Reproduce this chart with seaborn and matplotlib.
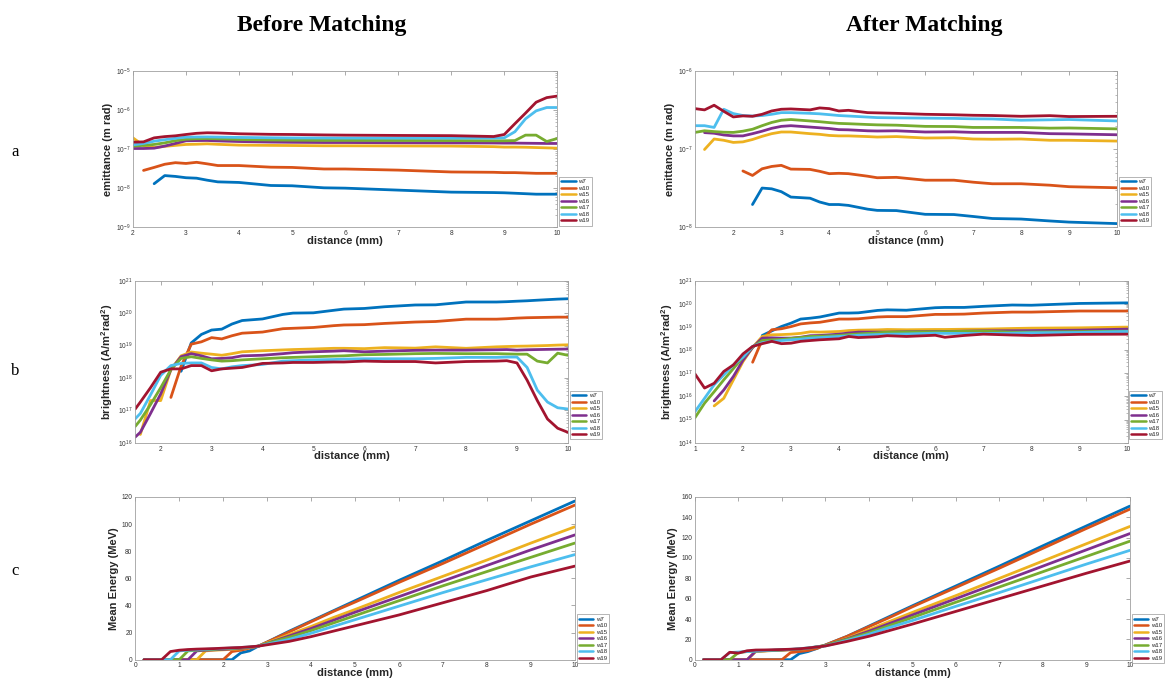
import numpy as np
import pandas as pd
import matplotlib
matplotlib.use('Agg')
import matplotlib.pyplot as plt
import seaborn as sns

nan = np.nan

# series names and MATLAB default colours
labels = ['w7', 'w10', 'w15', 'w16', 'w17', 'w18', 'w19']
colors = ['#0072BD', '#D95319', '#EDB120', '#7E2F8E', '#77AC30', '#4DBEEE', '#A2142F']

# --- emittance, before matching
emit_before_x = [2.0, 2.2, 2.4, 2.6, 2.8, 3.0, 3.2, 3.4, 3.6, 4.0, 4.6, 5.0, 5.6, 6.0, 7.0, 8.0, 8.8, 9.0, 9.2, 9.4, 9.6, 9.8, 10.0]
emit_before_w7 = [nan, nan, 1.3e-8, 2.1e-8, 2.0e-8, 1.85e-8, 1.8e-8, 1.6e-8, 1.45e-8, 1.4e-8, 1.17e-8, 1.15e-8, 1.02e-8, 1.0e-8, 0.89e-8, 0.79e-8, 0.77e-8, 0.76e-8, 0.74e-8, 0.72e-8, 0.7e-8, 0.7e-8, 0.7e-8]
emit_before_w10 = [nan, 2.85e-8, 3.4e-8, 4.1e-8, 4.5e-8, 4.3e-8, 4.6e-8, 4.2e-8, 3.8e-8, 3.8e-8, 3.45e-8, 3.4e-8, 3.1e-8, 3.1e-8, 2.9e-8, 2.6e-8, 2.55e-8, 2.5e-8, 2.5e-8, 2.45e-8, 2.4e-8, 2.4e-8, 2.4e-8]
emit_before_w15 = [1.95e-7, 1.24e-7, 1.1e-7, 1.18e-7, 1.25e-7, 1.32e-7, 1.34e-7, 1.37e-7, 1.33e-7, 1.27e-7, 1.25e-7, 1.24e-7, 1.22e-7, 1.22e-7, 1.21e-7, 1.2e-7, 1.16e-7, 1.13e-7, 1.13e-7, 1.12e-7, 1.1e-7, 1.08e-7, 1.06e-7]
emit_before_w16 = [1.04e-7, 1.04e-7, 1.06e-7, 1.2e-7, 1.4e-7, 1.64e-7, 1.66e-7, 1.67e-7, 1.63e-7, 1.57e-7, 1.52e-7, 1.5e-7, 1.48e-7, 1.48e-7, 1.46e-7, 1.45e-7, 1.44e-7, 1.43e-7, 1.43e-7, 1.42e-7, 1.41e-7, 1.4e-7, 1.4e-7]
emit_before_w17 = [1.2e-7, 1.25e-7, 1.32e-7, 1.45e-7, 1.65e-7, 1.8e-7, 1.85e-7, 1.88e-7, 1.84e-7, 1.77e-7, 1.72e-7, 1.7e-7, 1.68e-7, 1.68e-7, 1.67e-7, 1.66e-7, 1.64e-7, 1.64e-7, 1.66e-7, 2.29e-7, 2.29e-7, 1.57e-7, 1.88e-7]
emit_before_w18 = [1.29e-7, 1.4e-7, 1.6e-7, 1.75e-7, 1.9e-7, 2.03e-7, 2.05e-7, 2.06e-7, 2.04e-7, 2.0e-7, 1.96e-7, 1.94e-7, 1.93e-7, 1.92e-7, 1.92e-7, 1.92e-7, 1.93e-7, 1.95e-7, 2.8e-7, 6.0e-7, 9.6e-7, 1.17e-6, 1.17e-6]
emit_before_w19 = [1.51e-7, 1.54e-7, 1.95e-7, 2.1e-7, 2.2e-7, 2.38e-7, 2.55e-7, 2.63e-7, 2.6e-7, 2.48e-7, 2.4e-7, 2.38e-7, 2.32e-7, 2.29e-7, 2.25e-7, 2.22e-7, 2.11e-7, 2.38e-7, 4.5e-7, 8.4e-7, 1.6e-6, 2.1e-6, 2.3e-6]

# --- emittance, after matching
emit_after_x = [1.2, 1.4, 1.6, 1.8, 2.0, 2.2, 2.4, 2.6, 2.8, 3.0, 3.2, 3.6, 3.8, 4.0, 4.2, 4.4, 4.8, 5.0, 5.4, 6.0, 6.6, 7.0, 7.4, 8.0, 8.6, 9.0, 10.0]
emit_after_w7 = [nan] * 6 + [1.95e-8, 3.17e-8, 3.1e-8, 2.85e-8, 2.43e-8, 2.35e-8, 2.1e-8, 1.95e-8, 1.95e-8, 1.9e-8, 1.7e-8, 1.64e-8, 1.63e-8, 1.46e-8, 1.45e-8, 1.37e-8, 1.29e-8, 1.27e-8, 1.2e-8, 1.16e-8, 1.11e-8]
emit_after_w10 = [nan] * 5 + [5.25e-8, 4.6e-8, 5.6e-8, 6.0e-8, 6.2e-8, 5.55e-8, 5.5e-8, 5.2e-8, 4.85e-8, 4.9e-8, 4.85e-8, 4.5e-8, 4.3e-8, 4.35e-8, 4.0e-8, 4.0e-8, 3.77e-8, 3.6e-8, 3.6e-8, 3.45e-8, 3.3e-8, 3.2e-8]
emit_after_w15 = [nan, 9.9e-8, 1.35e-7, 1.3e-7, 1.22e-7, 1.24e-7, 1.33e-7, 1.46e-7, 1.58e-7, 1.66e-7, 1.66e-7, 1.58e-7, 1.55e-7, 1.5e-7, 1.48e-7, 1.48e-7, 1.45e-7, 1.43e-7, 1.45e-7, 1.39e-7, 1.40e-7, 1.35e-7, 1.34e-7, 1.35e-7, 1.3e-7, 1.3e-7, 1.27e-7]
emit_after_w16 = [nan, 1.63e-7, 1.6e-7, 1.52e-7, 1.48e-7, 1.48e-7, 1.58e-7, 1.7e-7, 1.85e-7, 1.96e-7, 2.0e-7, 1.92e-7, 1.88e-7, 1.84e-7, 1.78e-7, 1.77e-7, 1.72e-7, 1.71e-7, 1.72e-7, 1.66e-7, 1.67e-7, 1.64e-7, 1.64e-7, 1.64e-7, 1.58e-7, 1.57e-7, 1.53e-7]
emit_after_w17 = [1.64e-7, 1.72e-7, 1.68e-7, 1.65e-7, 1.64e-7, 1.7e-7, 1.8e-7, 2.0e-7, 2.2e-7, 2.35e-7, 2.4e-7, 2.3e-7, 2.25e-7, 2.19e-7, 2.14e-7, 2.12e-7, 2.07e-7, 2.05e-7, 2.03e-7, 1.96e-7, 1.95e-7, 1.9e-7, 1.9e-7, 1.9e-7, 1.86e-7, 1.87e-7, 1.82e-7]
emit_after_w18 = [2.0e-7, 2.0e-7, 1.9e-7, 3.25e-7, 2.86e-7, 2.7e-7, 2.66e-7, 2.7e-7, 2.8e-7, 2.94e-7, 2.94e-7, 2.88e-7, 2.84e-7, 2.77e-7, 2.7e-7, 2.66e-7, 2.58e-7, 2.54e-7, 2.52e-7, 2.5e-7, 2.48e-7, 2.45e-7, 2.44e-7, 2.35e-7, 2.38e-7, 2.4e-7, 2.3e-7]
emit_after_w19 = [3.31e-7, 3.19e-7, 3.66e-7, 3.06e-7, 2.59e-7, 2.67e-7, 2.64e-7, 2.8e-7, 3.09e-7, 3.25e-7, 3.28e-7, 3.19e-7, 3.38e-7, 3.31e-7, 3.09e-7, 3.15e-7, 2.94e-7, 2.92e-7, 2.88e-7, 2.8e-7, 2.76e-7, 2.72e-7, 2.7e-7, 2.64e-7, 2.69e-7, 2.62e-7, 2.64e-7]

# --- brightness, before matching
bright_before_x = [1.5, 1.6, 1.8, 2.0, 2.2, 2.4, 2.6, 2.8, 3.0, 3.2, 3.4, 3.6, 4.0, 4.4, 4.6, 5.0, 5.4, 5.6, 6.0, 6.4, 7.0, 7.4, 8.0, 8.6, 8.8, 9.0, 9.2, 9.4, 9.6, 9.8, 10.0]
bright_before_w7 = [nan] * 5 + [1.6e18, 1.2e19, 2.2e19, 3.0e19, 3.2e19, 4.6e19, 5.9e19, 6.6e19, 9.1e19, 1.0e20, 1.02e20, 1.22e20, 1.33e20, 1.39e20, 1.57e20, 1.78e20, 1.8e20, 2.2e20, 2.2e20, 2.25e20, 2.33e20, 2.4e20, 2.5e20, 2.6e20, 2.7e20, 2.77e20]
bright_before_w10 = [nan] * 4 + [2.5e17, 2.3e18, 1.1e19, 1.3e19, 1.75e19, 1.6e19, 2.0e19, 2.4e19, 2.6e19, 3.3e19, 3.4e19, 3.6e19, 4.1e19, 4.3e19, 4.4e19, 4.8e19, 5.3e19, 5.5e19, 6.5e19, 6.5e19, 6.7e19, 7.0e19, 7.2e19, 7.3e19, 7.4e19, 7.5e19, 7.5e19]
bright_before_w15 = [nan, 1.8e16, 2.0e17, 2.0e17, 1.8e18, 4.8e18, 6.3e18, 5.8e18, 5.4e18, 5.0e18, 5.6e18, 6.4e18, 6.9e18, 7.3e18, 7.5e18, 7.8e18, 8.2e18, 8.2e18, 8.0e18, 8.6e18, 8.3e18, 9.1e18, 8.2e18, 9.1e18, 9.3e18, 9.5e18, 9.6e18, 9.8e18, 1.0e19, 1.03e19, 1.05e19]
bright_before_w16 = [1.5e16, 2.1e16, 8e16, 3.2e17, 1.8e18, 4.5e18, 5.6e18, 4.8e18, 3.9e18, 4.0e18, 4.2e18, 4.8e18, 5.0e18, 5.6e18, 6.0e18, 6.4e18, 6.7e18, 6.9e18, 6.4e18, 6.7e18, 7.1e18, 7.2e18, 7.2e18, 7.4e18, 7.5e18, 7.2e18, 7.4e18, 7.5e18, 7.6e18, 7.7e18, 7.8e18]
bright_before_w17 = [3.2e16, 5e16, 1.5e17, 5e17, 1.8e18, 4.0e18, 4.5e18, 4.0e18, 3.6e18, 3.3e18, 3.4e18, 3.6e18, 3.9e18, 4.2e18, 4.3e18, 4.5e18, 4.7e18, 4.8e18, 5.2e18, 5.3e18, 5.6e18, 5.7e18, 5.6e18, 5.6e18, 5.5e18, 5.4e18, 5.4e18, 3.3e18, 2.9e18, 5.8e18, 5.0e18]
bright_before_w18 = [5.5e16, 8e16, 3e17, 1.2e18, 2.4e18, 2.8e18, 2.9e18, 2.9e18, 2.1e18, 1.9e18, 2.2e18, 2.4e18, 2.6e18, 3.3e18, 3.4e18, 3.6e18, 3.7e18, 3.8e18, 3.9e18, 3.9e18, 3.9e18, 4.0e18, 4.3e18, 4.3e18, 4.4e18, 4.4e18, 2.1e18, 4.2e17, 1.8e17, 1.2e17, 1.1e17]
bright_before_w19 = [1.1e17, 1.8e17, 5e17, 1.5e18, 1.9e18, 1.9e18, 2.4e18, 2.4e18, 1.66e18, 1.9e18, 2.0e18, 2.1e18, 2.8e18, 2.9e18, 3.0e18, 3.0e18, 3.1e18, 3.1e18, 3.3e18, 3.2e18, 3.2e18, 2.9e18, 3.2e18, 3.3e18, 3.4e18, 2.9e18, 8.5e17, 2.0e17, 5.4e16, 2.8e16, 2.1e16]

# --- brightness, after matching
bright_after_x = [1.0, 1.2, 1.4, 1.6, 1.8, 2.0, 2.2, 2.4, 2.6, 2.8, 3.0, 3.2, 3.4, 3.6, 4.0, 4.2, 4.4, 4.8, 5.0, 5.4, 6.0, 6.2, 6.6, 7.0, 7.6, 8.0, 9.0, 10.0]
bright_after_w7 = [nan] * 7 + [4.3e18, 6.8e18, 1.05e19, 1.47e19, 2.2e19, 2.4e19, 2.7e19, 4.0e19, 4.0e19, 4.1e19, 5.2e19, 5.5e19, 5.3e19, 6.8e19, 7.0e19, 7.0e19, 7.8e19, 8.9e19, 8.7e19, 1.04e20, 1.1e20]
bright_after_w10 = [nan] * 6 + [3e17, 2.8e18, 7.6e18, 8.4e18, 1.04e19, 1.36e19, 1.5e19, 1.6e19, 2.2e19, 2.2e19, 2.25e19, 2.7e19, 2.8e19, 2.8e19, 3.5e19, 3.5e19, 3.6e19, 4.0e19, 4.4e19, 4.4e19, 4.9e19, 4.9e19]
bright_after_w15 = [nan] * 2 + [3.9e15, 8.3e15, 5.2e16, 3.2e17, 1.3e18, 3.9e18, 4.6e18, 4.7e18, 4.9e18, 5.3e18, 6.2e18, 6.0e18, 6.4e18, 7.0e18, 7.3e18, 7.5e18, 7.8e18, 7.6e18, 7.8e18, 7.8e18, 8.0e18, 8.1e18, 8.6e18, 8.9e18, 9.2e18, 9.9e18]
bright_after_w16 = [nan] * 2 + [6.4e15, 1.9e16, 7.3e16, 3.7e17, 1.3e18, 3.3e18, 3.4e18, 3.3e18, 3.3e18, 3.6e18, 4.2e18, 4.3e18, 4.9e18, 5.5e18, 6.0e18, 6.0e18, 6.0e18, 6.2e18, 6.4e18, 6.4e18, 6.6e18, 6.8e18, 6.9e18, 7.0e18, 7.3e18, 8.1e18]
bright_after_w17 = [1.2e15, 5.1e15, 1.6e16, 5.2e16, 1.6e17, 5e17, 1.36e18, 2.6e18, 2.8e18, 2.9e18, 3.2e18, 3.5e18, 3.9e18, 4.0e18, 4.3e18, 4.7e18, 5.0e18, 5.6e18, 6.0e18, 6.1e18, 6.2e18, 6.3e18, 6.5e18, 6.6e18, 6.0e18, 6.0e18, 6.3e18, 6.6e18]
bright_after_w18 = [2.2e15, 8.3e15, 3.2e16, 8.5e16, 2.3e17, 5e17, 1.45e18, 2.1e18, 2.4e18, 2.6e18, 2.8e18, 3.0e18, 3.3e18, 3.5e18, 3.9e18, 4.1e18, 4.4e18, 4.7e18, 4.9e18, 5.0e18, 5.4e18, 5.3e18, 5.3e18, 5.2e18, 5.4e18, 5.6e18, 5.8e18, 6.4e18]
bright_after_w19 = [9.4e16, 2.3e16, 3.7e16, 1.2e17, 2.3e17, 6.9e17, 1.45e18, 1.9e18, 2.4e18, 1.9e18, 2.0e18, 2.4e18, 2.6e18, 2.8e18, 3.1e18, 3.9e18, 3.5e18, 3.8e18, 4.2e18, 3.9e18, 4.4e18, 3.6e18, 4.3e18, 4.9e18, 4.5e18, 4.3e18, 4.8e18, 4.9e18]

# --- mean energy (MeV)
energy_x = [0.2, 0.4, 0.6, 0.8, 1.0, 1.2, 1.4, 1.6, 1.8, 2.0, 2.2, 2.4, 2.6, 2.8, 3.0, 3.5, 4.0, 4.5, 5.0, 6.0, 7.0, 8.0, 9.0, 10.0]
energy_before_w7 = [0] * 11 + [5, 6.5, 10, 13, 21, 28.5, 36, 43.5, 58.5, 73, 88, 102.5, 117]
energy_before_w10 = [0] * 10 + [6, 7, 8.5, 10, 13, 20.5, 28, 35.5, 42.5, 57, 71, 85.5, 100, 114]
energy_before_w15 = [0] * 7 + [6.5, 7, 7.3, 7.6, 8, 8.8, 10, 12.5, 18.5, 24.5, 31, 37, 49.5, 61.5, 73.5, 86, 98]
energy_before_w16 = [0] * 6 + [6.5, 7, 7.3, 7.6, 8, 8.4, 9, 10, 12, 17.5, 23, 29, 35, 46.5, 58, 69.5, 81, 92]
energy_before_w17 = [0] * 5 + [6.5, 7, 7.3, 7.6, 8, 8.3, 8.7, 9.2, 10, 12, 16.5, 21.5, 27, 32.5, 43.5, 54.5, 65, 75.5, 86]
energy_before_w18 = [0] * 4 + [6.5, 7, 7.3, 7.6, 8, 8.3, 8.6, 9, 9.4, 10, 11.5, 15, 19.5, 24.5, 29.5, 39.5, 49.5, 59, 68.5, 77.5]
energy_before_w19 = [0] * 3 + [6, 7, 7.5, 7.8, 8, 8.2, 8.5, 8.8, 9, 9.5, 10, 11, 13.5, 17, 21, 25, 33, 42, 51, 61, 69]

energy_after_w7 = [0] * 11 + [6, 8, 11, 14.5, 23, 33, 43, 53, 72.5, 92, 112, 131.5, 151]
energy_after_w10 = [0] * 10 + [7, 8, 9, 11, 14.5, 23, 32.5, 42, 52, 71, 90, 109.5, 129, 148]
energy_after_w15 = [0] * 6 + [8, 8.5, 9, 9.3, 9.7, 10.2, 11, 12.5, 14, 21, 29.5, 38, 46.5, 63, 80, 97, 114, 131]
energy_after_w16 = [0] * 6 + [8.5, 8.8, 9.2, 9.5, 9.9, 10.4, 11.2, 12.5, 14, 20.5, 28, 36, 44, 60, 76, 92, 108, 124]
energy_after_w17 = [0] * 4 + [7, 8, 8.5, 8.8, 9.2, 9.6, 10, 10.6, 11.4, 12.6, 14, 20, 26.5, 34, 41.5, 56.5, 71.5, 86.5, 101.5, 116.5]
energy_after_w18 = [0] * 3 + [7, 7.5, 8, 8.5, 9, 9.4, 9.8, 10.2, 10.8, 11.6, 12.7, 13.5, 19, 25, 32, 38.5, 52.5, 66, 80, 94, 107.5]
energy_after_w19 = [0] * 3 + [7.3, 6.5, 8.8, 9.5, 9.6, 9.8, 10, 10.3, 10.7, 11.5, 12.5, 13.5, 18, 23, 29, 35, 47.5, 60, 72.5, 85, 97]

sns.set_style('white')
plt.rcParams['font.family'] = ['Liberation Sans', 'DejaVu Sans']
plt.rcParams['mathtext.fontset'] = 'custom'
plt.rcParams['mathtext.rm'] = 'Liberation Sans'
plt.rcParams['mathtext.bf'] = 'Liberation Sans:bold'

fig = plt.figure(figsize=(11.66, 6.78), dpi=100)


def draw(rect, x, series, ylabel, xlim, ylim, logy, xticks, yticks=None, leg_y=0.01):
    ax = fig.add_axes(rect)
    frames = []
    for name, vals in zip(labels, series):
        frames.append(pd.DataFrame({'distance': x, 'value': vals, 'series': name}))
    df = pd.concat(frames, ignore_index=True).dropna()
    sns.lineplot(data=df, x='distance', y='value', hue='series', hue_order=labels,
                 palette=colors, estimator=None, linewidth=2, ax=ax)
    if logy:
        ax.set_yscale('log')
    ax.set_xlim(*xlim)
    ax.set_ylim(*ylim)
    ax.set_xticks(xticks)
    if yticks is not None:
        ax.set_yticks(yticks)
    ax.set_xlabel('distance (mm)', fontsize=8, fontweight='bold', labelpad=-1)
    ax.set_ylabel(ylabel, fontsize=8, fontweight='bold', labelpad=2)
    ax.tick_params(which='both', direction='in', top=True, right=True,
                   labelsize=4.8, labelcolor='#333333', color='#888888', pad=2)
    ax.tick_params(which='major', length=3, width=0.5)
    ax.tick_params(which='minor', length=1.5, width=0.4)
    for sp in ax.spines.values():
        sp.set_color('#a0a0a0')
        sp.set_linewidth(0.6)
    h, l = ax.get_legend_handles_labels()
    leg = ax.legend(h, l, loc='lower left', bbox_to_anchor=(1.004, leg_y), fontsize=4.4,
                    handlelength=2.4, handletextpad=0.4, labelspacing=0.2, borderpad=0.35,
                    borderaxespad=0, fancybox=False, framealpha=1)
    leg.get_frame().set_edgecolor('#999999')
    leg.get_frame().set_linewidth(0.5)
    for line in leg.get_lines():
        line.set_linewidth(1.8)
    return ax


draw([0.114, 0.665, 0.364, 0.230], emit_before_x,
     [emit_before_w7, emit_before_w10, emit_before_w15, emit_before_w16, emit_before_w17, emit_before_w18, emit_before_w19],
     'emittance (m rad)', (2, 10), (1e-9, 1e-5), True, range(2, 11))
draw([0.596, 0.665, 0.362, 0.230], emit_after_x,
     [emit_after_w7, emit_after_w10, emit_after_w15, emit_after_w16, emit_after_w17, emit_after_w18, emit_after_w19],
     'emittance (m rad)', (1.2, 10), (1e-8, 1e-6), True, range(2, 11))

bright_label = r'brightness (A/m$^{\mathbf{2}}$rad$^{\mathbf{2}}$)'
draw([0.116, 0.347, 0.371, 0.239], bright_before_x,
     [bright_before_w7, bright_before_w10, bright_before_w15, bright_before_w16, bright_before_w17, bright_before_w18, bright_before_w19],
     bright_label, (1.5, 10), (1e16, 1e21), True, range(2, 11), leg_y=0.02)
draw([0.596, 0.347, 0.371, 0.239], bright_after_x,
     [bright_after_w7, bright_after_w10, bright_after_w15, bright_after_w16, bright_after_w17, bright_after_w18, bright_after_w19],
     bright_label, (1, 10), (1e14, 1e21), True, range(1, 11), leg_y=0.02)

draw([0.116, 0.027, 0.377, 0.240], energy_x,
     [energy_before_w7, energy_before_w10, energy_before_w15, energy_before_w16, energy_before_w17, energy_before_w18, energy_before_w19],
     'Mean Energy (MeV)', (0, 10), (0, 120), False, range(0, 11), yticks=range(0, 121, 20), leg_y=-0.02)
draw([0.596, 0.027, 0.373, 0.240], energy_x,
     [energy_after_w7, energy_after_w10, energy_after_w15, energy_after_w16, energy_after_w17, energy_after_w18, energy_after_w19],
     'Mean Energy (MeV)', (0, 10), (0, 160), False, range(0, 11), yticks=range(0, 161, 20), leg_y=-0.02)

fig.text(0.276, 0.963, 'Before Matching', ha='center', va='center', fontsize=17,
         fontweight='bold', family='Liberation Serif', color='black')
fig.text(0.793, 0.963, 'After Matching', ha='center', va='center', fontsize=17,
         fontweight='bold', family='Liberation Serif', color='black')
for letter, yy in zip(['a', 'b', 'c'], [0.776, 0.453, 0.158]):
    fig.text(0.013, yy, letter, ha='center', va='center', fontsize=12,
             family='Liberation Serif', color='black')

fig.savefig('out.png', dpi=100)
